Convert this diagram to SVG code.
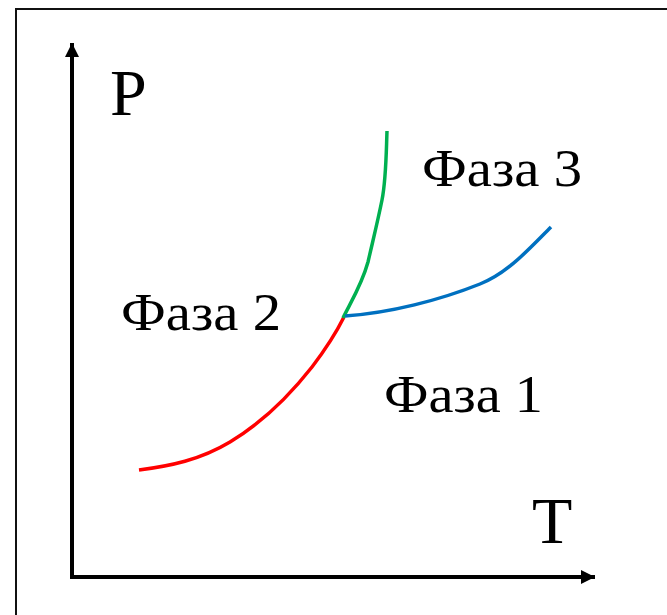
<svg xmlns="http://www.w3.org/2000/svg" width="667" height="615" viewBox="0 0 667 615">
<style>
.lbl{font-family:"Liberation Serif","Times New Roman",serif;fill:#000}
.ph{font-size:52px}
.ax{font-size:66px}
.curve{fill:none;stroke-width:3.5;stroke-linecap:butt}
</style>
<defs>
<marker id="arr" viewBox="0 0 14 14" refX="14" refY="7" markerWidth="14" markerHeight="14" markerUnits="userSpaceOnUse" orient="auto">
<path d="M0,0 L14,7 L0,14 Z" fill="#000"/>
</marker>
</defs>
<rect width="667" height="615" fill="#fff"/>
<rect id="frame" x="16" y="9" width="700" height="700" fill="none" stroke="#111" stroke-width="2"/>
<g id="connectors">
<line id="axisP" x1="72" y1="577" x2="72" y2="43" stroke="#000" stroke-width="4" marker-end="url(#arr)"/>
<line id="axisT" x1="70" y1="577" x2="595" y2="577" stroke="#000" stroke-width="4" marker-end="url(#arr)"/>
<path id="red" class="curve" stroke="#ff0000" d="M139,470 C170,466 200,460 230,442 C265,421 290,395 312,367 C328,346 336,333 344,317"/>
<path id="green" class="curve" stroke="#00b050" d="M343,318 C352,300 362,284 368,262 C374,236 378,220 382,200 C386,180 386,160 387,131"/>
<path id="blue" class="curve" stroke="#0070c0" d="M345,316 C390,313 440,300 480,284 C508,273 530,248 551,227"/>
</g>
<g id="P"><text class="lbl ax" x="110" y="115">P</text></g>
<g id="T"><text class="lbl ax" x="532" y="543">T</text></g>
<g id="phase3"><text class="lbl ph" x="422" y="186" textLength="160" lengthAdjust="spacingAndGlyphs">Фаза 3</text></g>
<g id="phase2"><text class="lbl ph" x="121" y="330" textLength="160" lengthAdjust="spacingAndGlyphs">Фаза 2</text></g>
<g id="phase1"><text class="lbl ph" x="384" y="412" textLength="159" lengthAdjust="spacingAndGlyphs">Фаза 1</text></g>
</svg>
